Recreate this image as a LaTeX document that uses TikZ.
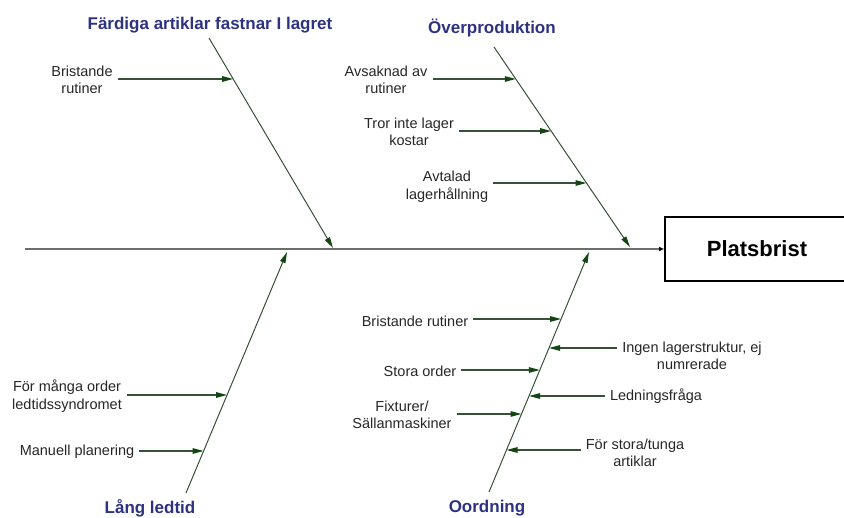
\documentclass[tikz,border=0pt]{standalone}
\usepackage{fontspec}
\setmainfont{Liberation Sans}
\usetikzlibrary{arrows.meta}

\definecolor{boneline}{RGB}{55,80,55}
\definecolor{bonehead}{RGB}{20,70,20}
\definecolor{spinegray}{RGB}{110,110,110}
\definecolor{headblue}{RGB}{45,50,130}

\tikzset{
  headline/.style={font=\fontsize{17}{20}\selectfont\bfseries, text=headblue, inner sep=0pt},
  causetext/.style={font=\fontsize{14.5}{17.5}\selectfont, align=center, inner xsep=5pt, inner ysep=0pt, text=black!85},
  bone/.style={draw=boneline, line width=1pt, -{Triangle[length=11pt,width=5.5pt,color=bonehead]}},
  cause/.style={draw=boneline, line width=1.3pt, -{Triangle[length=11pt,width=5.5pt,color=bonehead]}},
  spine/.style={draw=spinegray, line width=1.5pt, -{Triangle[length=5pt,width=4pt,color=black]}},
  effectbox/.style={draw=black, line width=2pt, minimum width=210pt, minimum height=64pt,
    font=\fontsize{22}{26}\selectfont\bfseries, inner sep=0pt},
}

\begin{document}
\begin{tikzpicture}[x=1pt,y=-1pt]
\useasboundingbox (0,0) rectangle (844,518);
\clip (0,0) rectangle (844,518);

% effect box (its right side runs past the page edge) and spine
\node[effectbox, anchor=west] (effect) at (664,249) {\hspace*{-26pt}Platsbrist};
\coordinate (tail) at (25,249);
\draw[spine] (tail) -- (effect.west);

% category headings
\node[headline] (hFA) at (210,25) {Färdiga artiklar fastnar I lagret};
\node[headline] (hOP) at (492,28) {Överproduktion};
\node[headline] (hLL) at (150,508) {Lång ledtid};
\node[headline] (hOO) at (487,508) {Oordning};

% main bones
\coordinate (fa0) at (209,38);  \coordinate (fa1) at (333,248);
\coordinate (op0) at (494,47);  \coordinate (op1) at (630,247);
\coordinate (ll0) at (186,493); \coordinate (ll1) at (287,252);
\coordinate (oo0) at (489,492); \coordinate (oo1) at (589,252);
\draw[bone] (fa0) -- (fa1);
\draw[bone] (op0) -- (op1);
\draw[bone] (ll0) -- (ll1);
\draw[bone] (oo0) -- (oo1);

% points where the causes meet the bones
\coordinate (pfa1) at (233.2,79);
\coordinate (pop1) at (515.8,79);
\coordinate (pop2) at (551.1,131);
\coordinate (pop3) at (586.5,183);
\coordinate (pll1) at (227.1,395);
\coordinate (pll2) at (203.6,451);
\coordinate (poo1) at (561.1,319);
\coordinate (poo2) at (549,348);
\coordinate (poo3) at (539.8,370);
\coordinate (poo4) at (529,396);
\coordinate (poo5) at (521.5,414);
\coordinate (poo6) at (506.5,450);

% causes
\node[causetext] (cfa1) at (82,80) {Bristande\\rutiner};
\node[causetext] (cop1) at (386,80) {Avsaknad av\\rutiner};
\node[causetext] (cop2) at (409,132) {Tror inte lager\\kostar};
\node[causetext] (cop3) at (447,187) {Avtalad\\lagerhållning};
\node[causetext] (cll1) at (67,396) {För många order\\ledtidssyndromet};
\node[causetext] (cll2) at (77,452) {Manuell planering};
\node[causetext] (coo1) at (415,321) {Bristande rutiner};
\node[causetext] (coo3) at (420,371) {Stora order};
\node[causetext] (coo5) at (402,415) {Fixturer/\\Sällanmaskiner};
\node[causetext] (coo2) at (692,356) {Ingen lagerstruktur, ej\\numrerade};
\node[causetext] (coo4) at (656,396) {Ledningsfråga};
\node[causetext] (coo6) at (635,453) {För stora/tunga\\artiklar};

\draw[cause] (cfa1.east |- pfa1) -- (pfa1);
\draw[cause] (cop1.east |- pop1) -- (pop1);
\draw[cause] (cop2.east |- pop2) -- (pop2);
\draw[cause] (cop3.east |- pop3) -- (pop3);
\draw[cause] (cll1.east |- pll1) -- (pll1);
\draw[cause] (cll2.east |- pll2) -- (pll2);
\draw[cause] (coo1.east |- poo1) -- (poo1);
\draw[cause] (coo3.east |- poo3) -- (poo3);
\draw[cause] (coo5.east |- poo5) -- (poo5);
\draw[cause] (coo2.west |- poo2) -- (poo2);
\draw[cause] (coo4.west |- poo4) -- (poo4);
\draw[cause] (coo6.west |- poo6) -- (poo6);
\end{tikzpicture}
\end{document}
